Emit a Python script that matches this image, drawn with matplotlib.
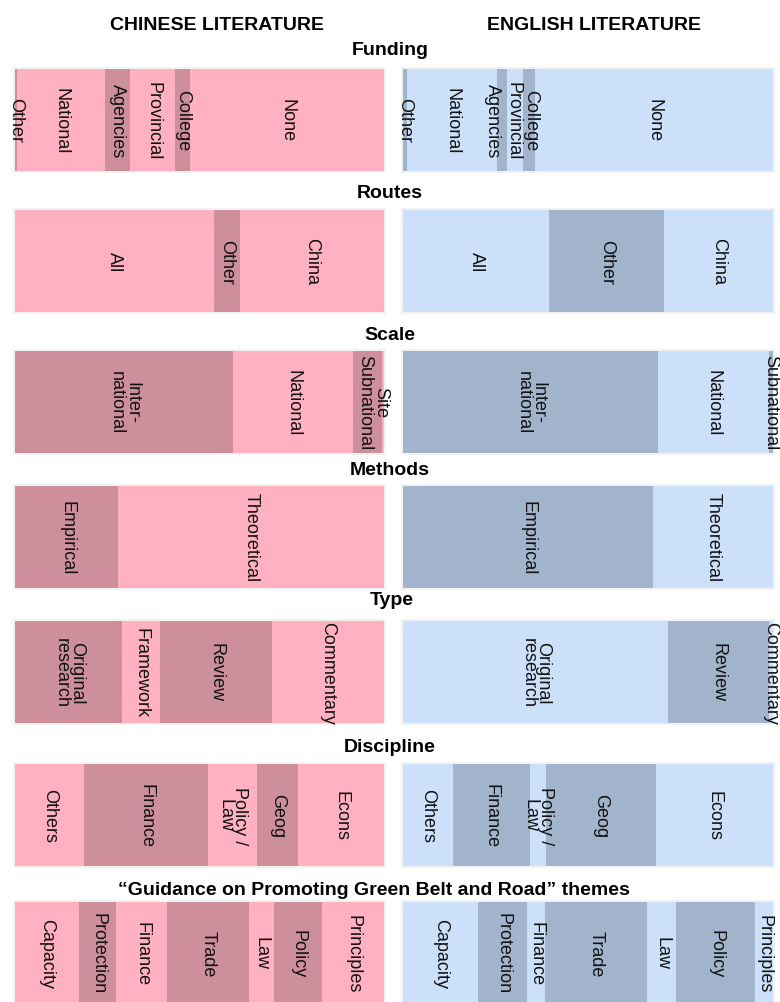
import numpy as np
import matplotlib
matplotlib.use("Agg")
import matplotlib.pyplot as plt

plt.rcParams['font.family'] = ['Liberation Sans', 'DejaVu Sans']

# section titles
sections = ["Funding", "Routes", "Scale", "Methods", "Type", "Discipline",
            "\u201cGuidance on Promoting Green Belt and Road\u201d themes"]

# categories and shares (%) for each section, Chinese vs English literature
funding_labels = ["Other", "National", "Agencies", "Provincial", "College", "None"]
funding_cn = [0.5, 23.9, 6.8, 12.2, 4.1, 52.5]
funding_en = [1.1, 24.3, 2.7, 4.3, 3.2, 64.4]

routes_labels = ["All", "Other", "China"]
routes_cn = [53.9, 7.0, 39.1]
routes_en = [39.5, 31.1, 29.4]

scale_labels = ["Inter-\nnational", "National", "Subnational", "Site"]
scale_cn = [59.2, 32.4, 7.9, 0.5]
scale_en = [68.9, 30.0, 1.1, 0.0]

methods_labels = ["Empirical", "Theoretical"]
methods_cn = [28.0, 72.0]
methods_en = [67.6, 32.4]

type_labels = ["Original\nresearch", "Framework", "Review", "Commentary"]
type_cn = [29.1, 10.1, 30.4, 30.4]
type_en = [71.6, 0.0, 27.3, 1.1]

discipline_labels = ["Others", "Finance", "Policy /\nLaw", "Geog", "Econs"]
discipline_cn = [18.8, 33.4, 13.3, 11.1, 23.4]
discipline_en = [13.5, 20.8, 4.3, 29.7, 31.7]

guidance_labels = ["Capacity", "Protection", "Finance", "Trade", "Law", "Policy", "Principles"]
guidance_cn = [17.4, 10.1, 13.6, 22.3, 6.8, 13.0, 16.8]
guidance_en = [20.3, 13.2, 4.9, 27.6, 7.8, 21.4, 4.8]

all_labels = [funding_labels, routes_labels, scale_labels, methods_labels,
              type_labels, discipline_labels, guidance_labels]
all_cn = [funding_cn, routes_cn, scale_cn, methods_cn, type_cn, discipline_cn, guidance_cn]
all_en = [funding_en, routes_en, scale_en, methods_en, type_en, discipline_en, guidance_en]

# --- styling / layout (pixels) ---
W, H = 780, 1003
fig = plt.figure(figsize=(W / 100, H / 100), dpi=100)

pink = ("#FFB0C1", "#CC8F9B")   # light, dark
blue = ("#CCE0FA", "#A2B4CC")
first_dark_cn = [1, 0, 1, 1, 1, 0, 0]
first_dark_en = [1, 0, 1, 1, 0, 0, 0]

row_top = [70, 211, 352, 487, 622, 765, 903]
row_h = 102
title_base = [55, 198, 340, 475, 605, 752, 895]
title_x = [390, 390, 390, 390, 392, 390, 374]
panels = [(15, 384), (403, 773)]   # x extent of bars

# small label nudges (in % units) where labels crowd
nudge = {(1, 0, "Agencies"): -2.6, (1, 0, "Provincial"): -0.4,
         (1, 0, "College"): 0.6,
         (0, 2, "Site"): -0.7, (0, 2, "Subnational"): -0.8}


def draw_panel(ax, values, labels, colors, first_dark, p, r):
    vals = np.array(values, dtype=float)
    lefts = np.concatenate([[0], np.cumsum(vals)[:-1]])
    k = 0
    for v, l, lab in zip(vals, lefts, labels):
        if v <= 0:
            continue
        dark = (k + first_dark) % 2 == 1
        k += 1
        ax.barh(0, v, left=l, height=1.0, color=colors[1] if dark else colors[0],
                edgecolor="none")
        x = l + v / 2 + nudge.get((p, r, lab), 0)
        ax.text(x, 0, lab, rotation=270, ha="center", va="center",
                multialignment="center", fontsize=13, color="#111111",
                linespacing=0.85, clip_on=False)


for r in range(len(sections)):
    for p, (x0, x1) in enumerate(panels):
        w = x1 - x0
        m = 2.0
        ax = fig.add_axes([(x0 - m) / W, 1 - (row_top[r] + row_h + m) / H,
                           (w + 2 * m) / W, (row_h + 2 * m) / H])
        mx = m / w * 100
        ax.set_xlim(-mx, 100 + mx)
        ax.set_ylim(-0.5 - m / row_h, 0.5 + m / row_h)
        ax.set_facecolor("#F2F2F2")
        for s in ax.spines.values():
            s.set_visible(False)
        ax.set_xticks([])
        ax.set_yticks([])
        if p == 0:
            draw_panel(ax, all_cn[r], all_labels[r], pink, first_dark_cn[r], p, r)
        else:
            draw_panel(ax, all_en[r], all_labels[r], blue, first_dark_en[r], p, r)
    fig.text(title_x[r] / W, 1 - title_base[r] / H, sections[r], ha="center",
             va="baseline", fontsize=14, fontweight="bold")

fig.text(217 / W, 1 - 30 / H, "CHINESE LITERATURE", ha="center", va="baseline",
         fontsize=14, fontweight="bold")
fig.text(594 / W, 1 - 30 / H, "ENGLISH LITERATURE", ha="center", va="baseline",
         fontsize=14, fontweight="bold")

fig.savefig("out.png", dpi=100)
